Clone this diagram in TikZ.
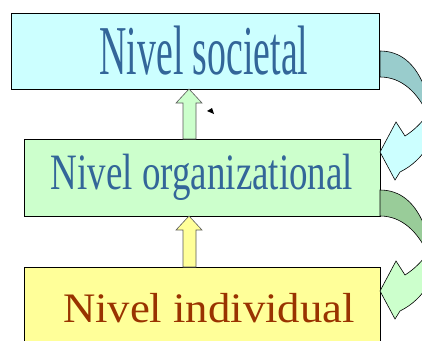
\documentclass[tikz,border=0pt]{standalone}
\usepackage{fontspec}
\setmainfont{Liberation Serif}
\usepackage{graphicx}
\definecolor{socfill}{HTML}{CCFFFF}
\definecolor{orgfill}{HTML}{CCFFCC}
\definecolor{indfill}{HTML}{FFFF99}
\definecolor{socback}{HTML}{99CCCC}
\definecolor{orgback}{HTML}{99CC99}
\definecolor{blueText}{HTML}{336699}
\definecolor{redText}{HTML}{993300}

\begin{document}
\begin{tikzpicture}[x=1pt,y=-1pt,
    box/.style={draw=black,line width=0.8pt,inner sep=0pt},
    blockup/.style={draw=gray!70!black,line width=0.6pt},
    curvearrow/.style={draw=black,line width=0.6pt}]
  \useasboundingbox (0,0) rectangle (422,340);
  \clip (0,0) rectangle (422,340);
  % the three levels
  \node[box,fill=socfill,minimum width=368pt,minimum height=76pt,text=blueText]
    (soc) at (195,51) {\hspace*{18pt}\fontsize{70}{70}\selectfont\scalebox{0.54}[1]{Nivel societal}};
  \node[box,fill=orgfill,minimum width=356pt,minimum height=77pt,text=blueText]
    (org) at (202,177.5) {\fontsize{51}{51}\selectfont\scalebox{0.725}[1]{Nivel organizational}};
  \node[box,fill=indfill,minimum width=356pt,minimum height=82pt,text=redText]
    (ind) at (202,308) {\hspace*{14pt}\fontsize{42}{42}\selectfont\scalebox{1.065}[1]{Nivel individual}};
  % block arrows upwards
  \filldraw[blockup,fill=orgfill] (183,139) -- (183,103) -- (176,103) -- (189,89) -- %
    (202,103) -- (196,103) -- (196,139) -- cycle;
  \filldraw[blockup,fill=indfill] (183,267) -- (183,230) -- (176,230) -- (189,216) -- %
    (202,230) -- (196,230) -- (196,267) -- cycle;
  \fill (207,111) -- (212,108) -- (214,114) -- cycle;
  % curved arrows on the right
  \begin{scope}[shift={(380,51)}]
    \filldraw[curvearrow,fill=socback] (0,0) .. controls (20,0) and (36,12) .. (46,40) -- %
      (48,64) .. controls (38,42) and (22,26) .. (0,26) -- cycle;
    \filldraw[curvearrow,fill=socfill] (50,60) .. controls (42,72) and (33,80) .. (25,85) -- %
      (16,71) -- (0,101) -- (15,129) -- (20,121) .. controls (32,115) and (42,106) .. (50,92) -- cycle;
  \end{scope}
  \begin{scope}[shift={(380,190)}]
    \filldraw[curvearrow,fill=orgback] (0,0) .. controls (20,0) and (36,12) .. (46,40) -- %
      (48,64) .. controls (38,42) and (22,26) .. (0,26) -- cycle;
    \filldraw[curvearrow,fill=orgfill] (50,60) .. controls (42,72) and (33,80) .. (25,85) -- %
      (16,71) -- (0,101) -- (15,129) -- (20,121) .. controls (32,115) and (42,106) .. (50,92) -- cycle;
  \end{scope}
\end{tikzpicture}
\end{document}
